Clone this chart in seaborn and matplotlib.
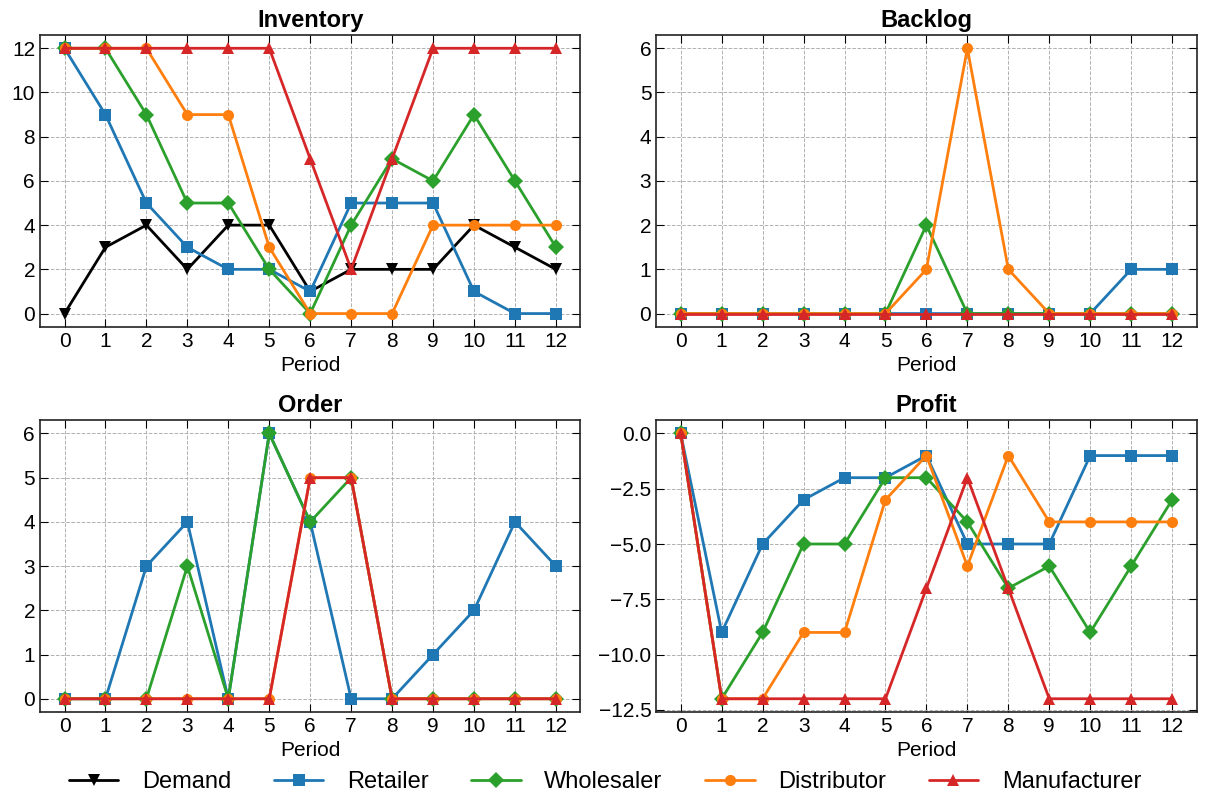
import numpy as np
import pandas as pd
import seaborn as sns
import matplotlib.pyplot as plt
from matplotlib.ticker import MultipleLocator

periods = list(range(13))
roles = ['Demand', 'Retailer', 'Wholesaler', 'Distributor', 'Manufacturer']
colors = {'Demand': 'black', 'Retailer': '#1f77b4', 'Wholesaler': '#2ca02c',
          'Distributor': '#ff7f0e', 'Manufacturer': '#d62728'}
markers = {'Demand': 'v', 'Retailer': 's', 'Wholesaler': 'D',
           'Distributor': 'o', 'Manufacturer': '^'}

# inventory
demand = [0, 3, 4, 2, 4, 4, 1, 2, 2, 2, 4, 3, 2]
inv_retailer = [12, 9, 5, 3, 2, 2, 1, 5, 5, 5, 1, 0, 0]
inv_wholesaler = [12, 12, 9, 5, 5, 2, 0, 4, 7, 6, 9, 6, 3]
inv_distributor = [12, 12, 12, 9, 9, 3, 0, 0, 0, 4, 4, 4, 4]
inv_manufacturer = [12, 12, 12, 12, 12, 12, 7, 2, 7, 12, 12, 12, 12]

# backlog
bl_retailer = [0, 0, 0, 0, 0, 0, 0, 0, 0, 0, 0, 1, 1]
bl_wholesaler = [0, 0, 0, 0, 0, 0, 2, 0, 0, 0, 0, 0, 0]
bl_distributor = [0, 0, 0, 0, 0, 0, 1, 6, 1, 0, 0, 0, 0]
bl_manufacturer = [0, 0, 0, 0, 0, 0, 0, 0, 0, 0, 0, 0, 0]

# order
ord_retailer = [0, 0, 3, 4, 0, 6, 4, 0, 0, 1, 2, 4, 3]
ord_wholesaler = [0, 0, 0, 3, 0, 6, 4, 5, 0, 0, 0, 0, 0]
ord_distributor = [0, 0, 0, 0, 0, 0, 5, 5, 0, 0, 0, 0, 0]
ord_manufacturer = [0, 0, 0, 0, 0, 0, 5, 5, 0, 0, 0, 0, 0]

# profit
pr_retailer = [0, -9, -5, -3, -2, -2, -1, -5, -5, -5, -1, -1, -1]
pr_wholesaler = [0, -12, -9, -5, -5, -2, -2, -4, -7, -6, -9, -6, -3]
pr_distributor = [0, -12, -12, -9, -9, -3, -1, -6, -1, -4, -4, -4, -4]
pr_manufacturer = [0, -12, -12, -12, -12, -12, -7, -2, -7, -12, -12, -12, -12]

panels = {
    'Inventory': {'Demand': demand, 'Retailer': inv_retailer, 'Wholesaler': inv_wholesaler,
                  'Distributor': inv_distributor, 'Manufacturer': inv_manufacturer},
    'Backlog': {'Retailer': bl_retailer, 'Wholesaler': bl_wholesaler,
                'Distributor': bl_distributor, 'Manufacturer': bl_manufacturer},
    'Order': {'Retailer': ord_retailer, 'Wholesaler': ord_wholesaler,
              'Distributor': ord_distributor, 'Manufacturer': ord_manufacturer},
    'Profit': {'Retailer': pr_retailer, 'Wholesaler': pr_wholesaler,
               'Distributor': pr_distributor, 'Manufacturer': pr_manufacturer},
}

sns.set_style('ticks')
plt.rcParams['font.family'] = ['Liberation Sans', 'DejaVu Sans']
plt.rcParams['xtick.direction'] = 'in'
plt.rcParams['ytick.direction'] = 'in'
plt.rcParams['xtick.top'] = True
plt.rcParams['ytick.right'] = True
plt.rcParams['xtick.major.size'] = 6
plt.rcParams['ytick.major.size'] = 6
plt.rcParams['axes.linewidth'] = 1.2
plt.rcParams['text.color'] = 'black'
plt.rcParams['axes.labelcolor'] = 'black'
plt.rcParams['xtick.color'] = 'black'
plt.rcParams['ytick.color'] = 'black'
plt.rcParams['axes.edgecolor'] = '#222222'

fig, axes = plt.subplots(2, 2, figsize=(12.1, 8.05), dpi=100)

for ax, (title, series) in zip(axes.flat, panels.items()):
    rows = []
    for role, vals in series.items():
        for p, v in zip(periods, vals):
            rows.append((p, v, role))
    df = pd.DataFrame(rows, columns=['Period', 'value', 'role'])
    sns.lineplot(data=df, x='Period', y='value', hue='role', style='role',
                 palette=colors, markers=markers, dashes=False,
                 linewidth=2, markersize=8, markeredgewidth=0,
                 ax=ax, legend=False)
    ax.set_title(title, fontsize=17, fontweight='bold')
    ax.set_xlabel('Period', fontsize=15)
    ax.set_ylabel('')
    ax.set_xticks(periods)
    ax.set_xlim(-0.6, 12.6)
    ax.tick_params(labelsize=15)
    ax.grid(True, linestyle='--', color='#b0b0b0', linewidth=0.7)
    for s in ax.spines.values():
        s.set_visible(True)

axes[1, 1].yaxis.set_major_locator(MultipleLocator(2.5))
axes[1, 1].yaxis.set_major_formatter(plt.FuncFormatter(lambda v, p: f'{v:.1f}'.replace('-', '\u2212')))

handles = [plt.Line2D([], [], color=colors[r], marker=markers[r], linewidth=2,
                      markersize=8, markeredgewidth=0, label=r) for r in roles]
fig.legend(handles=handles, loc='lower center', ncol=5, frameon=False,
           fontsize=17, bbox_to_anchor=(0.5, -0.012), columnspacing=1.8,
           handlelength=2.1, handletextpad=1.0)

fig.subplots_adjust(left=0.033, right=0.989, top=0.9565, bottom=0.1155, hspace=0.32, wspace=0.14)
fig.savefig('out.png', dpi=100)
